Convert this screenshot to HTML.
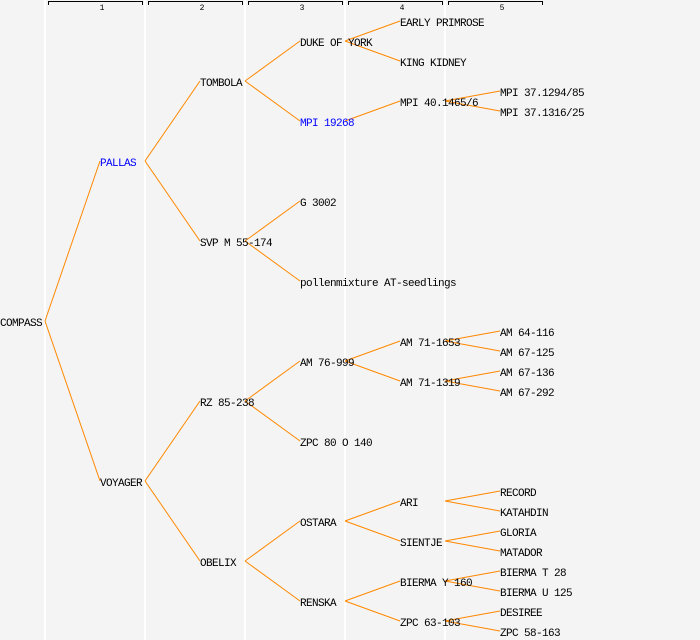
<!DOCTYPE html>
<html><head><meta charset="utf-8"><style>
html,body{margin:0;padding:0;background:#f4f4f4;}
svg{display:block;}
text{font-family:"Liberation Mono","DejaVu Sans Mono",monospace;font-size:11px;letter-spacing:-0.6px;fill:#000;}
.b{fill:#0000ff;}
.h{font-size:8px;letter-spacing:0;}
line.e{stroke:#ff8800;stroke-width:1;}
</style></head><body>
<svg width="700" height="640" xmlns="http://www.w3.org/2000/svg">
<rect width="700" height="640" fill="#f4f4f4"/>
<g fill="#ffffff">
<rect x="44" y="0" width="2" height="640"/><rect x="144" y="0" width="2" height="640"/><rect x="244" y="0" width="2" height="640"/><rect x="344" y="0" width="2" height="640"/><rect x="444" y="0" width="2" height="640"/>
</g>
<g stroke="#000" stroke-width="1" fill="none">
<path d="M48.5 5V1.5H142.5V5"/><path d="M148.5 5V1.5H242.5V5"/><path d="M248.5 5V1.5H342.5V5"/><path d="M348.5 5V1.5H442.5V5"/><path d="M448.5 5V1.5H542.5V5"/>
</g>
<g text-anchor="middle" class="h">
<text class="h" x="102" y="10">1</text><text class="h" x="202" y="10">2</text><text class="h" x="302" y="10">3</text><text class="h" x="402" y="10">4</text><text class="h" x="502" y="10">5</text>
</g>
<g>
<line class="e" x1="45" y1="321" x2="100" y2="161"/><line class="e" x1="45" y1="321" x2="100" y2="481"/>
<line class="e" x1="145" y1="161" x2="200" y2="81"/><line class="e" x1="145" y1="161" x2="200" y2="241"/>
<line class="e" x1="145" y1="481" x2="200" y2="401"/><line class="e" x1="145" y1="481" x2="200" y2="561"/>
<line class="e" x1="245" y1="81" x2="300" y2="41"/><line class="e" x1="245" y1="81" x2="300" y2="121"/>
<line class="e" x1="245" y1="241" x2="300" y2="201"/><line class="e" x1="245" y1="241" x2="300" y2="281"/>
<line class="e" x1="245" y1="401" x2="300" y2="361"/><line class="e" x1="245" y1="401" x2="300" y2="441"/>
<line class="e" x1="245" y1="561" x2="300" y2="521"/><line class="e" x1="245" y1="561" x2="300" y2="601"/>
<line class="e" x1="345" y1="41" x2="400" y2="21"/><line class="e" x1="345" y1="41" x2="400" y2="61"/>
<line class="e" x1="345" y1="121" x2="400" y2="101"/>
<line class="e" x1="345" y1="361" x2="400" y2="341"/><line class="e" x1="345" y1="361" x2="400" y2="381"/>
<line class="e" x1="345" y1="521" x2="400" y2="501"/><line class="e" x1="345" y1="521" x2="400" y2="541"/>
<line class="e" x1="345" y1="601" x2="400" y2="581"/><line class="e" x1="345" y1="601" x2="400" y2="621"/>
<line class="e" x1="445" y1="101" x2="500" y2="91"/><line class="e" x1="445" y1="101" x2="500" y2="111"/>
<line class="e" x1="445" y1="341" x2="500" y2="331"/><line class="e" x1="445" y1="341" x2="500" y2="351"/>
<line class="e" x1="445" y1="381" x2="500" y2="371"/><line class="e" x1="445" y1="381" x2="500" y2="391"/>
<line class="e" x1="445" y1="501" x2="500" y2="491"/><line class="e" x1="445" y1="501" x2="500" y2="511"/>
<line class="e" x1="445" y1="541" x2="500" y2="531"/><line class="e" x1="445" y1="541" x2="500" y2="551"/>
<line class="e" x1="445" y1="581" x2="500" y2="571"/><line class="e" x1="445" y1="581" x2="500" y2="591"/>
<line class="e" x1="445" y1="621" x2="500" y2="611"/><line class="e" x1="445" y1="621" x2="500" y2="631"/>
</g>
<g>
<text x="0" y="326">COMPASS</text>
<text x="100" y="166" class="b">PALLAS</text><text x="100" y="486">VOYAGER</text>
<text x="200" y="86">TOMBOLA</text><text x="200" y="246">SVP M 55-174</text><text x="200" y="406">RZ 85-238</text><text x="200" y="566">OBELIX</text>
<text x="300" y="46">DUKE OF YORK</text><text x="300" y="126" class="b">MPI 19268</text><text x="300" y="206">G 3002</text><text x="300" y="286">pollenmixture AT-seedlings</text>
<text x="300" y="366">AM 76-999</text><text x="300" y="446">ZPC 80 O 140</text><text x="300" y="526">OSTARA</text><text x="300" y="606">RENSKA</text>
<text x="400" y="26">EARLY PRIMROSE</text><text x="400" y="66">KING KIDNEY</text><text x="400" y="106">MPI 40.1465/6</text>
<text x="400" y="346">AM 71-1653</text><text x="400" y="386">AM 71-1319</text>
<text x="400" y="506">ARI</text><text x="400" y="546">SIENTJE</text><text x="400" y="586">BIERMA Y 160</text><text x="400" y="626">ZPC 63-103</text>
<text x="500" y="96">MPI 37.1294/85</text><text x="500" y="116">MPI 37.1316/25</text>
<text x="500" y="336">AM 64-116</text><text x="500" y="356">AM 67-125</text><text x="500" y="376">AM 67-136</text><text x="500" y="396">AM 67-292</text>
<text x="500" y="496">RECORD</text><text x="500" y="516">KATAHDIN</text><text x="500" y="536">GLORIA</text><text x="500" y="556">MATADOR</text>
<text x="500" y="576">BIERMA T 28</text><text x="500" y="596">BIERMA U 125</text><text x="500" y="616">DESIREE</text><text x="500" y="636">ZPC 58-163</text>
</g>
</svg>
</body></html>
